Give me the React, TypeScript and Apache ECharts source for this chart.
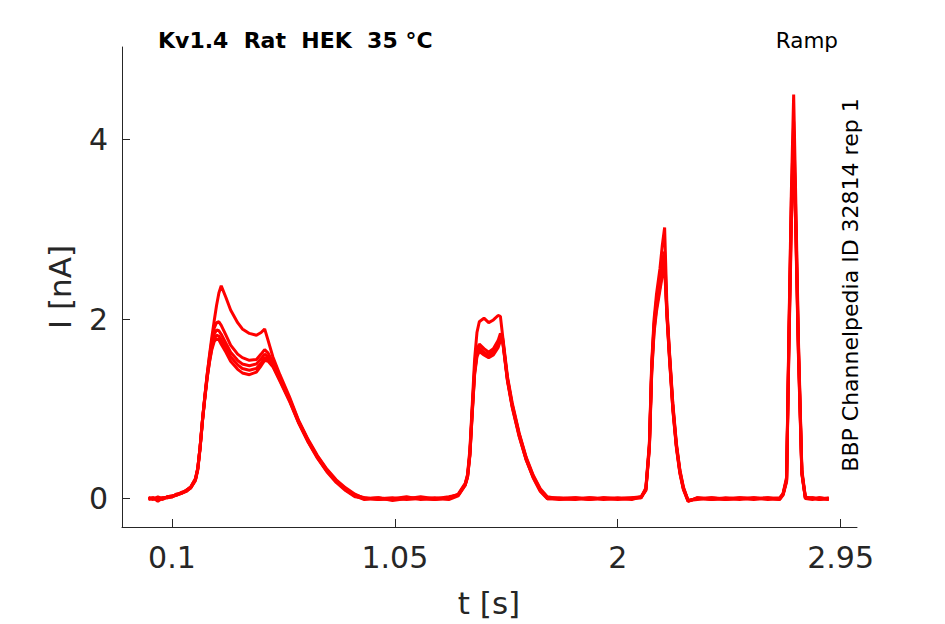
import React, { useEffect, useRef } from "react";
import * as echarts from "echarts";

// time samples [s]
const T = [
  0.0, 0.02, 0.04, 0.06, 0.08, 0.1, 0.12, 0.14, 0.16, 0.18,
  0.2, 0.21, 0.22, 0.23, 0.24, 0.25, 0.26, 0.27, 0.28, 0.29, 0.3, 0.31,
  0.33, 0.35, 0.38, 0.4, 0.43, 0.46, 0.48, 0.495, 0.51,
  0.53, 0.56, 0.6, 0.64, 0.68, 0.72, 0.76, 0.8, 0.84, 0.88,
  0.92, 0.98, 1.04, 1.1, 1.16, 1.22, 1.28, 1.32,
  1.35, 1.36, 1.37, 1.38, 1.39, 1.4, 1.41, 1.43, 1.45, 1.47, 1.49, 1.5, 1.51, 1.53, 1.55, 1.58, 1.61, 1.64, 1.67, 1.7,
  1.75, 1.82, 1.88, 1.94, 2.0, 2.06, 2.1,
  2.12, 2.135, 2.145, 2.155, 2.165, 2.18, 2.19, 2.2, 2.21, 2.22, 2.235, 2.25, 2.265, 2.28, 2.3,
  2.34, 2.4, 2.46, 2.52, 2.58, 2.64, 2.69,
  2.705, 2.72, 2.73, 2.74, 2.75, 2.76, 2.77, 2.785, 2.8,
  2.83, 2.86, 2.9,
];

// current traces [nA]
const traceA = [
  0.01, -0.01, 0.02, 0.0, 0.02, 0.03, 0.04, 0.06, 0.08, 0.12,
  0.2, 0.32, 0.56, 0.86, 1.13, 1.38, 1.6, 1.8, 1.98, 2.15, 2.29, 2.37,
  2.24, 2.1, 1.96, 1.89, 1.84, 1.82, 1.85, 1.89, 1.76,
  1.58, 1.38, 1.14, 0.87, 0.66, 0.48, 0.33, 0.21, 0.12, 0.05,
  0.0, 0.01, -0.02, 0.0, 0.01, -0.01, 0.01, 0.05,
  0.17, 0.27, 0.55, 1.05, 1.55, 1.85, 1.97, 2.01, 1.96, 1.99, 2.04, 2.03, 1.8, 1.36, 1.07, 0.73, 0.46, 0.26, 0.11, 0.02,
  0.0, -0.01, 0.01, 0.0, 0.01, 0.0, 0.02,
  0.12, 0.62, 1.52, 2.0, 2.27, 2.56, 2.82, 3.02, 2.12, 1.66, 1.06, 0.62, 0.32, 0.13, -0.02,
  0.0, -0.01, 0.01, 0.0, -0.01, 0.01, 0.0,
  0.06, 0.24, 1.9, 3.4, 4.5, 3.2, 1.8, 0.32, 0.02,
  0.0, -0.01, 0.01,
];
const traceB = [
  0.0, 0.01, -0.03, 0.01, 0.01, 0.02, 0.05, 0.06, 0.09, 0.12,
  0.21, 0.33, 0.58, 0.88, 1.14, 1.38, 1.58, 1.76, 1.9, 1.96, 1.97, 1.93,
  1.82, 1.71, 1.61, 1.57, 1.54, 1.55, 1.61, 1.66, 1.62,
  1.52, 1.34, 1.12, 0.86, 0.65, 0.47, 0.32, 0.2, 0.11, 0.04,
  0.01, -0.01, 0.0, 0.02, -0.01, 0.0, 0.02, 0.04,
  0.16, 0.26, 0.52, 1.0, 1.45, 1.66, 1.72, 1.67, 1.63, 1.67, 1.76, 1.84, 1.78, 1.34, 1.05, 0.72, 0.45, 0.25, 0.1, 0.01,
  0.01, 0.0, -0.01, 0.01, 0.0, 0.01, 0.01,
  0.11, 0.6, 1.48, 1.95, 2.2, 2.45, 2.65, 2.75, 2.08, 1.64, 1.04, 0.6, 0.31, 0.12, -0.03,
  0.01, 0.0, -0.01, 0.01, 0.0, 0.0, -0.01,
  0.05, 0.22, 1.85, 3.3, 4.2, 3.05, 1.75, 0.3, 0.01,
  0.01, 0.0, -0.01,
];
const traceC = [
  -0.01, 0.0, 0.01, -0.01, 0.02, 0.03, 0.04, 0.07, 0.09, 0.13,
  0.22, 0.34, 0.58, 0.88, 1.13, 1.36, 1.55, 1.71, 1.83, 1.88, 1.87, 1.83,
  1.73, 1.63, 1.54, 1.5, 1.48, 1.5, 1.56, 1.61, 1.58,
  1.5, 1.33, 1.11, 0.85, 0.64, 0.46, 0.31, 0.19, 0.1, 0.03,
  -0.01, 0.0, 0.01, -0.01, 0.0, 0.01, 0.0, 0.04,
  0.16, 0.25, 0.5, 0.98, 1.42, 1.62, 1.68, 1.63, 1.6, 1.64, 1.72, 1.8, 1.76, 1.33, 1.04, 0.71, 0.44, 0.24, 0.09, 0.0,
  0.0, 0.01, 0.0, -0.01, 0.0, 0.01, 0.02,
  0.1, 0.58, 1.45, 1.92, 2.16, 2.4, 2.58, 2.68, 2.06, 1.62, 1.02, 0.59, 0.3, 0.11, -0.02,
  -0.01, 0.01, 0.0, -0.01, 0.01, 0.0, 0.01,
  0.05, 0.21, 1.8, 3.2, 4.05, 2.95, 1.7, 0.29, 0.0,
  -0.01, 0.01, 0.0,
];
const traceD = [
  0.0, 0.01, 0.0, 0.01, 0.01, 0.02, 0.04, 0.06, 0.08, 0.12,
  0.21, 0.33, 0.57, 0.87, 1.12, 1.35, 1.53, 1.68, 1.78, 1.82, 1.81, 1.77,
  1.68, 1.58, 1.49, 1.45, 1.43, 1.45, 1.51, 1.57, 1.55,
  1.48, 1.32, 1.1, 0.85, 0.64, 0.46, 0.31, 0.19, 0.1, 0.03,
  0.0, 0.01, -0.01, 0.0, 0.02, 0.0, -0.01, 0.03,
  0.15, 0.24, 0.49, 0.96, 1.4, 1.6, 1.66, 1.61, 1.58, 1.62, 1.7, 1.78, 1.75, 1.32, 1.03, 0.7, 0.43, 0.24, 0.09, 0.01,
  -0.01, 0.0, 0.01, 0.0, -0.01, 0.0, 0.01,
  0.1, 0.57, 1.42, 1.88, 2.12, 2.36, 2.52, 2.62, 2.04, 1.6, 1.0, 0.58, 0.29, 0.11, -0.02,
  0.0, 0.01, -0.01, 0.0, 0.01, -0.01, 0.0,
  0.05, 0.2, 1.75, 3.1, 3.95, 2.9, 1.66, 0.28, 0.01,
  0.0, 0.01, -0.01,
];
const traceE = [
  0.01, 0.0, -0.01, 0.0, 0.02, 0.02, 0.05, 0.06, 0.09, 0.13,
  0.22, 0.34, 0.57, 0.86, 1.11, 1.34, 1.52, 1.66, 1.75, 1.78, 1.77, 1.72,
  1.63, 1.53, 1.44, 1.4, 1.38, 1.41, 1.48, 1.54, 1.53,
  1.47, 1.31, 1.09, 0.84, 0.63, 0.45, 0.3, 0.18, 0.09, 0.02,
  0.01, -0.01, 0.0, 0.01, 0.0, -0.01, 0.01, 0.04,
  0.15, 0.24, 0.48, 0.95, 1.38, 1.58, 1.64, 1.6, 1.57, 1.6, 1.68, 1.76, 1.74, 1.31, 1.02, 0.69, 0.43, 0.23, 0.08, 0.0,
  0.0, 0.01, -0.01, 0.01, 0.0, -0.01, 0.02,
  0.09, 0.55, 1.4, 1.85, 2.08, 2.32, 2.48, 2.57, 2.02, 1.58, 0.99, 0.57, 0.28, 0.1, -0.03,
  0.01, -0.01, 0.0, 0.01, 0.0, 0.01, -0.01,
  0.04, 0.19, 1.7, 3.0, 4.1, 2.85, 1.62, 0.27, 0.0,
  0.01, -0.01, 0.0,
];
const TRACES = [traceA, traceB, traceC, traceD, traceE];

const X_TICKS = [0.1, 1.05, 2, 2.95];
const Y_TICKS = [0, 2, 4];
const X_RANGE = [-0.113, 3.02];
const Y_RANGE = [-0.316, 5.03];

const TITLE = "Kv1.4  Rat  HEK  35 °C";
const PROTOCOL = "Ramp";
const SIDE_NOTE = "BBP Channelpedia ID 32814 rep 1";
const X_NAME = "t [s]";
const Y_NAME = "I [nA]";

const AXIS_COLOR = "#262626";
const FONT = "'DejaVu Sans', sans-serif";

export default function App() {
  const ref = useRef<HTMLDivElement>(null);
  useEffect(() => {
    if (!ref.current) return;
    const chart = echarts.init(ref.current, undefined, { renderer: "svg" });
    const axisCommon = {
      type: "value" as const,
      splitLine: { show: false },
      axisLine: { show: true, onZero: false, lineStyle: { color: AXIS_COLOR, width: 1 } },
    };
    chart.setOption({
      animation: false,
      backgroundColor: "#ffffff",
      grid: {
        left: 122,
        top: 47,
        right: 88,
        bottom: 97,
        containLabel: false,
        outerBoundsMode: "none",
      },
      xAxis: {
        ...axisCommon,
        min: X_RANGE[0],
        max: X_RANGE[1],
        axisTick: {
          show: true,
          inside: true,
          length: 8,
          customValues: X_TICKS,
          lineStyle: { color: AXIS_COLOR },
        },
        axisLabel: {
          customValues: X_TICKS,
          formatter: (v: number) => String(v),
          color: AXIS_COLOR,
          fontFamily: FONT,
          fontSize: 30,
          margin: 15,
        },
      },
      yAxis: {
        ...axisCommon,
        min: Y_RANGE[0],
        max: Y_RANGE[1],
        axisTick: {
          show: true,
          inside: true,
          length: 8,
          customValues: Y_TICKS,
          lineStyle: { color: AXIS_COLOR },
        },
        axisLabel: {
          customValues: Y_TICKS,
          formatter: (v: number) => String(v),
          color: AXIS_COLOR,
          fontFamily: FONT,
          fontSize: 30,
          margin: 14,
        },
      },
      series: TRACES.map((tr, k) => ({
        type: "line",
        name: "trace " + (k + 1),
        data: T.map((t, i) => [t, tr[i]]),
        showSymbol: false,
        symbol: "none",
        lineStyle: { color: "#ff0000", width: 3 },
        itemStyle: { color: "#ff0000" },
        clip: true,
        silent: true,
      })),
      graphic: [
        {
          type: "text",
          x: 158,
          y: 40,
          style: {
            text: TITLE,
            fill: "#000000",
            font: `bold 22px ${FONT}`,
            textAlign: "left",
            textVerticalAlign: "middle",
          },
        },
        {
          type: "text",
          x: 838,
          y: 40,
          style: {
            text: PROTOCOL,
            fill: "#000000",
            font: `21.5px ${FONT}`,
            textAlign: "right",
            textVerticalAlign: "middle",
          },
        },
        {
          type: "text",
          x: 850,
          y: 285,
          rotation: Math.PI / 2,
          style: {
            text: SIDE_NOTE,
            fill: "#000000",
            font: `22px ${FONT}`,
            textAlign: "center",
            textVerticalAlign: "middle",
          },
        },
        {
          type: "text",
          x: 489,
          y: 603,
          style: {
            text: X_NAME,
            fill: AXIS_COLOR,
            font: `31px ${FONT}`,
            textAlign: "center",
            textVerticalAlign: "middle",
          },
        },
        {
          type: "text",
          x: 60,
          y: 287,
          rotation: Math.PI / 2,
          style: {
            text: Y_NAME,
            fill: AXIS_COLOR,
            font: `31px ${FONT}`,
            textAlign: "center",
            textVerticalAlign: "middle",
          },
        },
      ],
    });
    return () => chart.dispose();
  }, []);
  return (
    <div
      ref={ref}
      style={{ position: "absolute", left: 0, top: 0, width: 945, height: 624 }}
    />
  );
}
